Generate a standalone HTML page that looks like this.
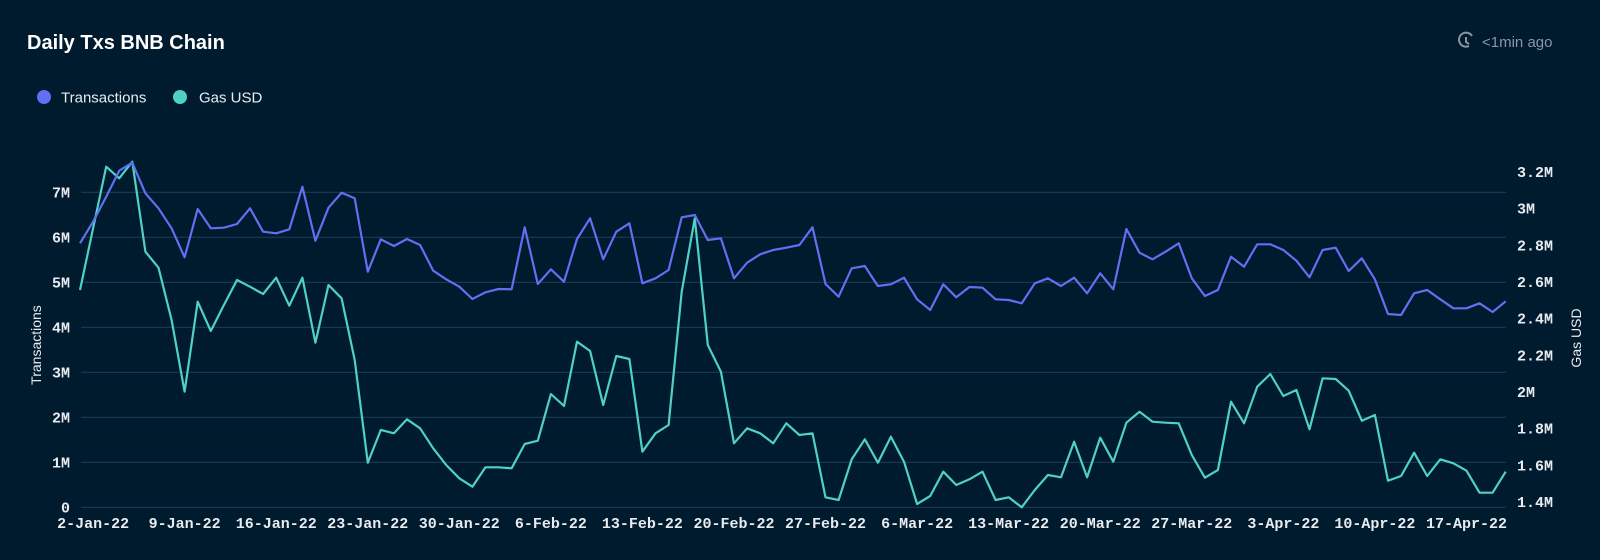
<!DOCTYPE html>
<html><head><meta charset="utf-8">
<style>
html,body{margin:0;padding:0;background:#001a2e;}
body{width:1600px;height:555px;overflow:hidden;position:relative;font-family:"Liberation Sans",sans-serif;}
</style></head>
<body>
<svg id="c" width="1600" height="555" viewBox="0 0 1600 555" xmlns="http://www.w3.org/2000/svg">
<rect width="1600" height="555" fill="#001a2e"/>
<text x="27" y="49" fill="#ffffff" font-size="20" font-weight="bold" font-family="Liberation Sans, sans-serif">Daily Txs BNB Chain</text>
<circle cx="44" cy="97" r="7" fill="#6170f2"/>
<text x="61" y="102.5" fill="#e8ecf0" font-size="15" font-family="Liberation Sans, sans-serif">Transactions</text>
<circle cx="180" cy="97" r="7" fill="#4fd1c5"/>
<text x="199" y="102.5" fill="#e8ecf0" font-size="15" font-family="Liberation Sans, sans-serif">Gas USD</text>
<g stroke="#8a96a3" stroke-width="2" fill="none">
<path d="M1472 36 A7 7 0 1 0 1469 46"/>
<path d="M1466 37 L1466 42 L1469 44"/>
</g>
<text x="1482" y="47" fill="#8a96a3" font-size="15" font-family="Liberation Sans, sans-serif">&lt;1min ago</text>
<g id="grid" stroke="#1b3a55" stroke-width="1.2"></g>
<g id="labels" font-family="Liberation Mono, monospace" font-weight="bold" font-size="15" fill="#e8ecf0"></g>
<text transform="translate(41,345) rotate(-90)" text-anchor="middle" fill="#e8ecf0" font-size="14" font-family="Liberation Sans, sans-serif">Transactions</text>
<text transform="translate(1581,338) rotate(-90)" text-anchor="middle" fill="#e8ecf0" font-size="14" font-family="Liberation Sans, sans-serif">Gas USD</text>
<polyline id="teal" fill="none" stroke="#4fd1c5" stroke-width="2.2" stroke-linejoin="round"/>
<polyline id="blue" fill="none" stroke="#6170f2" stroke-width="2.2" stroke-linejoin="round"/>
</svg>
<script>
var NS="http://www.w3.org/2000/svg";
var grid=document.getElementById('grid'),lab=document.getElementById('labels');
function el(p,t,a,txt){var e=document.createElementNS(NS,t);for(var k in a)e.setAttribute(k,a[k]);if(txt!==undefined)e.textContent=txt;p.appendChild(e);return e;}
var L=['0','1M','2M','3M','4M','5M','6M','7M'];
for(var i=0;i<8;i++){var y=507.3-45*i;el(grid,'line',{x1:81,x2:1506,y1:y,y2:y});el(lab,'text',{x:70,y:y+5,'text-anchor':'end'},L[i]);}
var R=['1.4M','1.6M','1.8M','2M','2.2M','2.4M','2.6M','2.8M','3M','3.2M'];
for(var i=0;i<10;i++){var y=502-36.67*i;el(lab,'text',{x:1517,y:y+5},R[i]);}
var D=['2-Jan-22','9-Jan-22','16-Jan-22','23-Jan-22','30-Jan-22','6-Feb-22','13-Feb-22','20-Feb-22','27-Feb-22','6-Mar-22','13-Mar-22','20-Mar-22','27-Mar-22','3-Apr-22','10-Apr-22','17-Apr-22'];
for(var k=0;k<D.length;k++){var x=80+13.08*(1+7*k);el(lab,'text',{x:x,y:528,'text-anchor':'middle'},D[k]);}
var B=[310,245,170,92,68,160,205,265,352,207,265,263,252,205,275,280,268,140,302,203,158,175,395,298,318,297,315,392,
418,
440,477,457,447,448,262,432,388,425,297,235,358,275,250,430,415,390,232,225,300,295,415,368,343,330,323,315,262,
432,470,385,378,438,433,413,478,510,433,472,441,443,478,480,490,430,415,438,413,460,400,448,267,338,358,
335,
310,415,468,450,350,380,313,313,330,362,412,330,323,393,355,418,522,525,460,450,478,505,505,490,516,484];
var T=[450,265,80,115,65,335,383,540,755,485,573,495,420,440,462,413,497,413,608,435,475,660,968,870,880,838,865,925,
975,
1015,1040,982,982,985,912,902,762,798,605,633,795,648,657,935,880,855,455,235,615,695,910,865,880,910,850,885,880,
1072,1080,958,898,968,890,965,1092,1068,995,1035,1018,995,1080,1072,1102,1050,1005,1012,905,1012,893,965,848,815,845,
848,
850,945,1013,990,785,850,740,702,768,750,868,715,717,752,842,825,1022,1008,938,1008,958,970,992,1058,1058,995];
function pts(a){var s=[];var n=a.length;for(var i=0;i<n;i++){var x=80+(1425.7/(n-1))*i;s.push(x.toFixed(1)+','+(140+a[i]/3).toFixed(1));}return s.join(' ');}
document.getElementById('blue').setAttribute('points',pts(B));
document.getElementById('teal').setAttribute('points',pts(T));
</script>
</body></html>
